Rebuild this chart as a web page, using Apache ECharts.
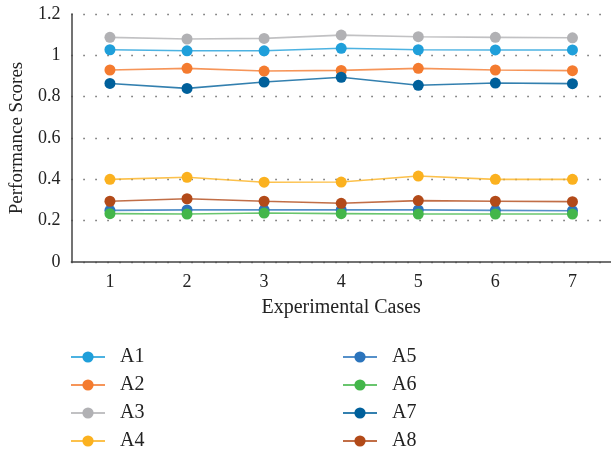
<!DOCTYPE html>
<html><head><meta charset="utf-8">
<script src="https://cdn.jsdelivr.net/npm/echarts@6/dist/echarts.min.js"></script>
<style>html,body{margin:0;padding:0;background:#fff}#c{width:611px;height:451px}</style>
</head><body><div id="c"></div>
<script>
const categories = ['1','2','3','4','5','6','7'];
const seriesNames = ['A1','A2','A3','A4','A5','A6','A7','A8'];
const A1 = [1.027, 1.022, 1.022, 1.034, 1.027, 1.026, 1.026];
const A2 = [0.929, 0.937, 0.924, 0.927, 0.937, 0.929, 0.926];
const A3 = [1.087, 1.079, 1.082, 1.098, 1.090, 1.087, 1.085];
const A4 = [0.400, 0.410, 0.386, 0.387, 0.416, 0.400, 0.400];
const A5 = [0.250, 0.252, 0.252, 0.252, 0.252, 0.250, 0.248];
const A6 = [0.234, 0.232, 0.237, 0.234, 0.232, 0.232, 0.232];
const A7 = [0.864, 0.840, 0.871, 0.894, 0.855, 0.866, 0.863];
const A8 = [0.294, 0.306, 0.294, 0.284, 0.297, 0.294, 0.292];
const yTicks = [0, 0.2, 0.4, 0.6, 0.8, 1, 1.2];
const colors = ['#1f9fda','#f47b2f','#b1b1b4','#fbb11f','#2b74bc','#43b64a','#00609b','#b24a19'];
const values = [A1,A2,A3,A4,A5,A6,A7,A8];

const font = 'Liberation Serif';
const chart = echarts.init(document.getElementById('c'), null, {renderer:'canvas'});
const series = seriesNames.map((n,i)=>({
  name:n, type:'line', data:values[i],
  symbol:'circle', symbolSize:11,
  itemStyle:{color:colors[i]},
  lineStyle:{color:colors[i], width:1.6, opacity:0.8},
  emphasis:{disabled:true}, animation:false
}));
const legendCommon = {
  orient:'vertical', itemWidth:34, itemHeight:14, itemGap:8, height:200,
  textStyle:{fontFamily:font, fontSize:20, color:'#222', padding:[0,0,0,10]}
};
chart.setOption({
  animation:false,
  grid:{left:69, right:-6, top:14, bottom:189, containLabel:false},
  xAxis:{type:'category', data:categories, boundaryGap:true,
    name:'Experimental Cases', nameLocation:'middle', nameGap:36,
    nameTextStyle:{fontFamily:font, fontSize:20, color:'#222'},
    axisLine:{lineStyle:{color:'#444', width:1.5}},
    axisTick:{show:false},
    axisLabel:{fontFamily:font, fontSize:18, color:'#222', margin:11}},
  yAxis:{type:'value', min:0, max:1.2, interval:0.2,
    name:'Performance Scores', nameLocation:'middle', nameGap:44,
    nameTextStyle:{fontFamily:font, fontSize:19, color:'#222'},
    axisLine:{show:true, lineStyle:{color:'#444', width:1.5}},
    axisTick:{show:false},
    axisLabel:{fontFamily:font, fontSize:18, color:'#222', margin:11,
      formatter:v=>{const t=yTicks.find(x=>Math.abs(x-v)<1e-9); return t===undefined?'':String(t);}},
    splitLine:{show:true, lineStyle:{color:'#555', width:1.3, type:[1.3,10.7]}}},
  legend:[
    Object.assign({left:65, top:342, data:['A1','A2','A3','A4']}, legendCommon),
    Object.assign({left:337, top:342, data:['A5','A6','A7','A8']}, legendCommon)
  ],
  series
});
</script></body></html>
